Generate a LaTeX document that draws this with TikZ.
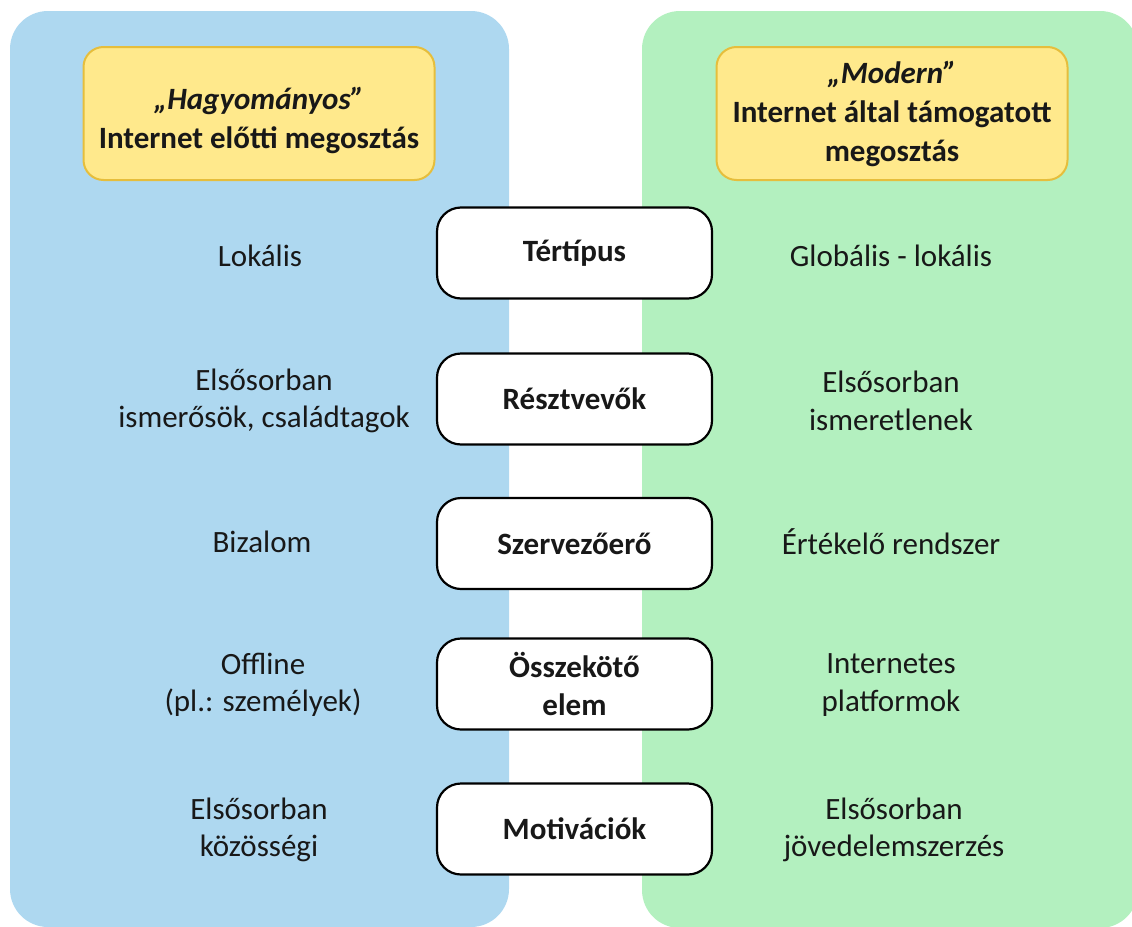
\documentclass[tikz,border=0pt]{standalone}
\usepackage{fontspec}
\setmainfont{Carlito}
\definecolor{panelblue}{RGB}{174,216,240}
\definecolor{panelgreen}{RGB}{179,240,191}
\definecolor{headfill}{RGB}{255,233,140}
\definecolor{headline}{RGB}{230,190,60}
\definecolor{ink}{RGB}{24,24,24}
\begin{document}
\begin{tikzpicture}[x=1pt,y=-1pt,
  every node/.style={text=ink, align=center, inner sep=0pt},
  sidetext/.style={font=\fontsize{31}{37.5}\selectfont},
  header/.style={draw=headline, line width=2pt, fill=headfill, rounded corners=20pt,
    minimum width=351pt, minimum height=133pt, font=\bfseries\fontsize{31}{39}\selectfont},
  aspect/.style={draw=black, line width=2.2pt, fill=white, rounded corners=24pt,
    minimum width=275pt, minimum height=91pt, font=\bfseries\fontsize{31}{37.5}\selectfont}]
\useasboundingbox (0,0) rectangle (1132,926);

% two background columns
\begin{scope}
  \clip (0,0) rectangle (1132,926);
  \fill[panelblue, rounded corners=38pt] (10,11) rectangle (509,927);
  \fill[panelgreen, rounded corners=38pt] (642,11) rectangle (1138,928);
\end{scope}

% column headings (the strut lowers the two-line heading a little)
\node[header] (hL) at (259,113.5)
  {\rule{0pt}{36pt}{\itshape „Hagyományos”}\\Internet előtti megosztás};
\node[header] (hR) at (892,113.5) {{\itshape „Modern”}\\Internet által támogatott\\megosztás};

% aspects in the middle
\node[aspect] (a1) at (574.5,253) {Tértípus};
\node[aspect] (a2) at (574.5,399) {Résztvevők};
\node[aspect] (a3) at (574.5,543.5) {Szervezőerő};
\node[aspect] (a4) at (574.5,684) {Összekötő\\elem};
\node[aspect] (a5) at (574.5,829) {Motivációk};

% traditional side
\node[sidetext] (l1) at (260,256) {Lokális};
\node[sidetext] (l2) at (264,401) {Elsősorban\\ismerősök, családtagok};
\node[sidetext] (l3) at (262,542) {Bizalom};
\node[sidetext] (l4) at (263,685) {Offline\\(pl.: személyek)};
\node[sidetext] (l5) at (259,830) {Elsősorban\\közösségi};

% modern side
\node[sidetext] (r1) at (891,256) {Globális - lokális};
\node[sidetext] (r2) at (891,401) {Elsősorban\\ismeretlenek};
\node[sidetext] (r3) at (891,542) {Értékelő rendszer};
\node[sidetext] (r4) at (891,685) {Internetes\\platformok};
\node[sidetext] (r5) at (894,830) {Elsősorban\\jövedelemszerzés};
\end{tikzpicture}
\end{document}
